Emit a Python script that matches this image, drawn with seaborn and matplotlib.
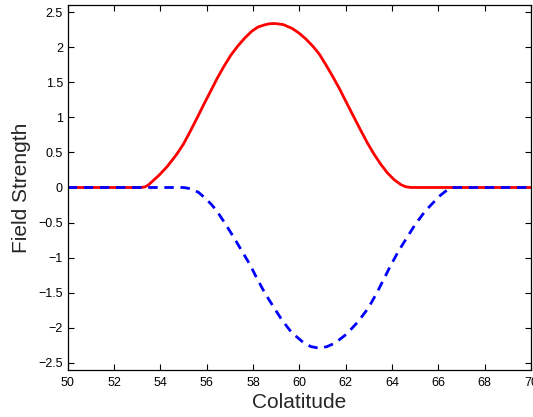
import matplotlib
matplotlib.use("Agg")
import matplotlib.pyplot as plt
import seaborn as sns
import pandas as pd

# Red (solid) series
red_x = [50, 53.2, 53.35, 53.5, 53.96, 54.3, 54.7, 55.0, 55.29, 55.6, 55.87, 56.15, 56.46,
         56.75, 57.05, 57.35, 57.64, 57.95, 58.22, 58.5, 58.7, 58.93, 59.3, 59.69, 60.0,
         60.28, 60.6, 60.87, 61.15, 61.45, 61.75, 62.04, 62.35, 62.63, 62.95, 63.22,
         63.5, 63.8, 64.1, 64.39, 64.6, 64.83, 70]
red_y = [0, 0, 0.01, 0.04, 0.18, 0.3, 0.47, 0.62, 0.8, 1.0, 1.18, 1.36, 1.56,
         1.73, 1.89, 2.02, 2.13, 2.23, 2.29, 2.32, 2.335, 2.34, 2.325, 2.27, 2.2,
         2.12, 2.01, 1.9, 1.75, 1.58, 1.4, 1.21, 1.01, 0.83, 0.63, 0.48,
         0.34, 0.21, 0.11, 0.04, 0.01, 0, 0]

# Blue (dashed) series
blue_x = [50, 55.0, 55.35, 55.65, 55.93, 56.2, 56.43, 56.79, 57.15, 57.51, 57.87,
          58.16, 58.52, 58.88, 59.25, 59.67, 60.17, 60.5, 60.89, 61.2, 61.54, 62.05,
          62.55, 62.98, 63.34, 63.63, 63.92, 64.28, 64.64, 65.0, 65.43, 65.86, 66.1,
          66.37, 66.6, 70]
blue_y = [0, 0, -0.02, -0.07, -0.15, -0.24, -0.33, -0.51, -0.70, -0.90, -1.10,
          -1.29, -1.51, -1.70, -1.89, -2.07, -2.21, -2.27, -2.295, -2.27, -2.22, -2.09,
          -1.91, -1.72, -1.51, -1.32, -1.13, -0.91, -0.72, -0.53, -0.34, -0.19, -0.11,
          -0.04, 0, 0]

x_ticks = [50, 52, 54, 56, 58, 60, 62, 64, 66, 68, 70]
y_ticks = [-2.5, -2, -1.5, -1, -0.5, 0, 0.5, 1, 1.5, 2, 2.5]
y_tick_labels = ["\u22122.5", "\u22122", "\u22121.5", "\u22121", "\u22120.5", "0",
                 "0.5", "1", "1.5", "2", "2.5"]

sns.set_style("ticks")
plt.rcParams['font.family'] = ['Liberation Sans', 'DejaVu Sans']

fig = plt.figure(figsize=(5.33, 4.17), dpi=100)
ax = fig.add_axes([0.127, 0.1134, 0.869, 0.874])

red_df = pd.DataFrame({"x": red_x, "y": red_y})
blue_df = pd.DataFrame({"x": blue_x, "y": blue_y})

sns.lineplot(data=red_df, x="x", y="y", ax=ax, color=(1, 0, 0), linewidth=2.0,
             estimator=None, sort=False)
sns.lineplot(data=blue_df, x="x", y="y", ax=ax, color=(0, 0, 1), linewidth=2.0,
             estimator=None, sort=False, linestyle=(0, (3.4, 2.4)))

ax.set_xlim(50, 70)
ax.set_ylim(-2.6, 2.6)
ax.set_xticks(x_ticks)
ax.set_xticklabels([str(t) for t in x_ticks])
ax.set_yticks(y_ticks)
ax.set_yticklabels(y_tick_labels)
ax.tick_params(direction='in', length=4, width=0.8, labelsize=9, colors='black',
               top=True, right=True, pad=3.5)
ax.tick_params(axis='x', pad=5)
for s in ax.spines.values():
    s.set_visible(True)
    s.set_linewidth(0.9)
    s.set_color('black')

ax.set_xlabel("Colatitude", fontsize=15, labelpad=3)
ax.set_ylabel("Field Strength", fontsize=15, labelpad=5)

fig.savefig("out.png", dpi=100)
